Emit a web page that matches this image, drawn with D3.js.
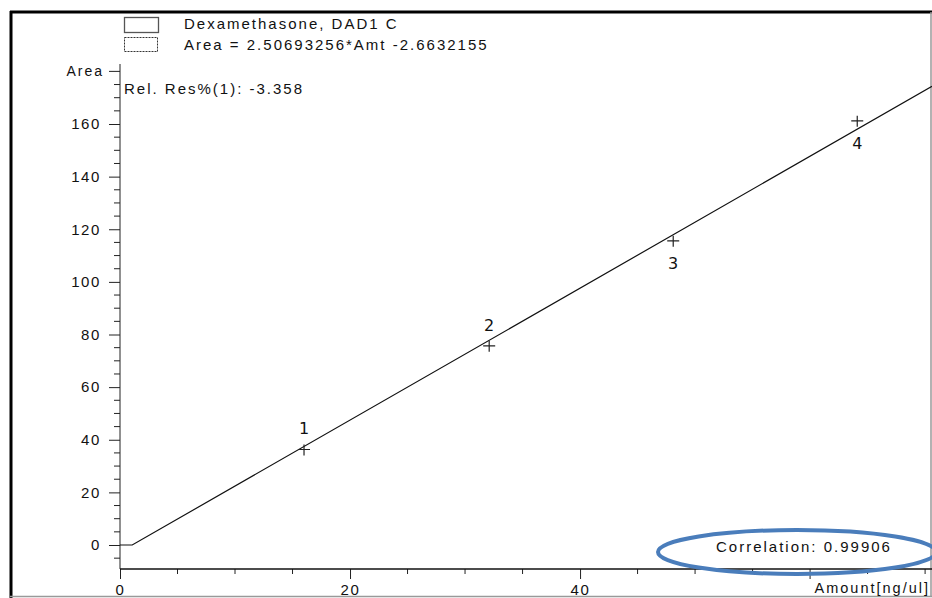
<!DOCTYPE html>
<html>
<head>
<meta charset="utf-8">
<script src="https://cdn.jsdelivr.net/npm/d3@7"></script>
<style>
  html, body { margin: 0; padding: 0; background: #fff; }
  svg { display: block; }
  text { font-family: 'Liberation Sans', Arial, sans-serif; fill: #111; }
  .sp { letter-spacing: 2.0px; }
  .tk { letter-spacing: 1.6px; }
</style>
</head>
<body>
<svg width="932" height="598"></svg>
<script>
// calibration points
const levels = ['1', '2', '3', '4']
const amounts = [16.0, 32.1, 48.1, 64.1]
const areas = [36.3, 75.7, 115.6, 161.2]
const labelSide = ['above', 'above', 'below', 'below']

const slope = 2.50693256
const intercept = -2.6632155
const legendLines = ['Dexamethasone, DAD1 C', 'Area = 2.50693256*Amt -2.6632155']
const relRes = 'Rel. Res%(1): -3.358'
const correlation = 'Correlation: 0.99906'

const xTicks = [0, 20, 40]
const yTicks = [0, 20, 40, 60, 80, 100, 120, 140, 160]

const x0 = 120
const yAxisBottom = 569

const scaleX = d3.scaleLinear().domain([0, 70.6]).range([x0, 932])
const scaleY = d3.scaleLinear().domain([0, 160]).range([545, 124])

const svg = d3.select('svg')

// frame
svg.append('line').attr('x1', 10).attr('x2', 932).attr('y1', 12).attr('y2', 12)
  .attr('stroke', '#000').attr('stroke-width', 3)
svg.append('line').attr('x1', 11).attr('x2', 11).attr('y1', 11).attr('y2', 598)
  .attr('stroke', '#000').attr('stroke-width', 3)
svg.append('line').attr('x1', 931).attr('x2', 931).attr('y1', 12).attr('y2', 597)
  .attr('stroke', '#999').attr('stroke-width', 1.5)
svg.append('line').attr('x1', 10).attr('x2', 932).attr('y1', 596.5).attr('y2', 596.5)
  .attr('stroke', '#999').attr('stroke-width', 1.5)

// y axis: majors every 20, minors every 5
const yAxis = d3.axisLeft(scaleY).tickValues(yTicks).tickSize(11).tickPadding(8)
  .tickFormat(d3.format('d'))
const gy = svg.append('g').attr('transform', `translate(${x0}, 0)`).call(yAxis)
gy.select('.domain').remove()
gy.selectAll('line').attr('stroke', '#222')
gy.selectAll('text').attr('class', 'tk').style('font-size', '15px')
  .style('font-family', "'Liberation Sans', Arial, sans-serif").attr('fill', '#111')

const yMinor = d3.range(-5, 181, 5).filter((v) => v % 20 !== 0)
svg.append('g').selectAll('line').data(yMinor).enter().append('line')
  .attr('x1', x0 - 6).attr('x2', x0)
  .attr('y1', (d) => scaleY(d)).attr('y2', (d) => scaleY(d))
  .attr('stroke', '#222')
svg.append('line').attr('x1', x0 - 11).attr('x2', x0)
  .attr('y1', scaleY(180)).attr('y2', scaleY(180)).attr('stroke', '#222')
svg.append('text').attr('class', 'sp').attr('x', x0 - 16).attr('y', scaleY(180) + 5)
  .attr('text-anchor', 'end').style('font-size', '14px').text('Area')
svg.append('line').attr('x1', x0).attr('x2', x0).attr('y1', 64).attr('y2', yAxisBottom)
  .attr('stroke', '#222')

// x axis
const xAxis = d3.axisBottom(scaleX).tickValues(xTicks).tickSize(10).tickPadding(5)
  .tickFormat(d3.format('d'))
const gx = svg.append('g').attr('transform', `translate(0, ${yAxisBottom})`).call(xAxis)
gx.select('.domain').remove()
gx.selectAll('line').attr('stroke', '#222')
gx.selectAll('text').attr('class', 'tk').style('font-size', '15px')
  .style('font-family', "'Liberation Sans', Arial, sans-serif").attr('fill', '#111')
svg.append('line').attr('x1', scaleX(60)).attr('x2', scaleX(60))
  .attr('y1', yAxisBottom).attr('y2', yAxisBottom + 10).attr('stroke', '#222')
const xMinor = d3.range(5, 71, 5).filter((v) => v % 20 !== 0)
svg.append('g').selectAll('line').data(xMinor).enter().append('line')
  .attr('x1', (d) => scaleX(d)).attr('x2', (d) => scaleX(d))
  .attr('y1', yAxisBottom).attr('y2', yAxisBottom + 5)
  .attr('stroke', '#222')
svg.append('line').attr('x1', x0).attr('x2', 932).attr('y1', yAxisBottom).attr('y2', yAxisBottom)
  .attr('stroke', '#111').attr('stroke-width', 1.5)
svg.append('text').attr('class', 'sp').attr('x', 930).attr('y', 593)
  .attr('text-anchor', 'end').style('font-size', '14.5px').text('Amount[ng/ul]')

// fitted line, clipped at zero area
const xZero = -intercept / slope
const xEnd = scaleX.domain()[1]
const fit = [[0, 0], [xZero, 0], [xEnd, slope * xEnd + intercept]]
svg.append('path')
  .attr('d', d3.line().x((d) => scaleX(d[0])).y((d) => scaleY(d[1]))(fit))
  .attr('fill', 'none').attr('stroke', '#111').attr('stroke-width', 1.2)

// calibration points
const pts = svg.append('g').selectAll('g').data(amounts).enter().append('g')
  .attr('transform', (d, i) => `translate(${scaleX(d)}, ${scaleY(areas[i])})`)
pts.append('path').attr('d', 'M-6,0H6M0,-5V6').attr('stroke', '#222').attr('stroke-width', 1.2)
pts.append('text')
  .attr('y', (d, i) => (labelSide[i] === 'above' ? -15 : 28))
  .attr('text-anchor', 'middle')
  .style('font-family', "'DejaVu Sans', sans-serif").style('font-size', '16px')
  .text((d, i) => levels[i])

// legend
svg.append('rect').attr('x', 124.5).attr('y', 17.5).attr('width', 34).attr('height', 15)
  .attr('fill', 'none').attr('stroke', '#555').attr('stroke-width', 1.3)
svg.append('rect').attr('x', 124.5).attr('y', 37.5).attr('width', 33).attr('height', 14)
  .attr('fill', 'none').attr('stroke', '#333').attr('stroke-width', 1)
  .attr('stroke-dasharray', '2,1')
svg.append('g').selectAll('text').data(legendLines).enter().append('text')
  .attr('class', 'sp').attr('x', 184).attr('y', (d, i) => 29 + i * 21)
  .style('font-size', '15px').text((d) => d)

svg.append('text').attr('class', 'sp').attr('x', 124).attr('y', 94)
  .style('font-size', '15px').text(relRes)

// correlation with blue ellipse
svg.append('text').attr('class', 'sp').attr('x', 716).attr('y', 552)
  .style('font-size', '15px').text(correlation)
svg.append('ellipse').attr('cx', 797).attr('cy', 552).attr('rx', 139).attr('ry', 22)
  .attr('fill', 'none').attr('stroke', '#4a7dbb').attr('stroke-width', 4)
</script>
</body>
</html>
